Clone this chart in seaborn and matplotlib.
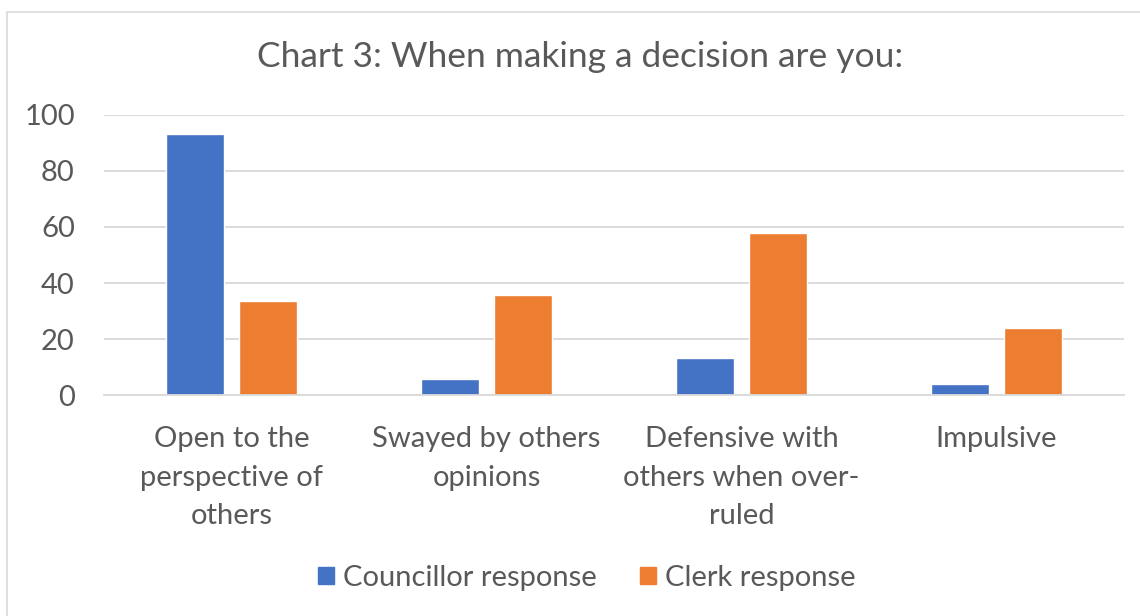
import matplotlib
matplotlib.use("Agg")
import matplotlib.pyplot as plt
import matplotlib.patches as mpatches
import pandas as pd
import seaborn as sns

# Survey responses (%)
categories = [
    "Open to the\nperspective of\nothers",
    "Swayed by others\nopinions",
    "Defensive with\nothers when over-\nruled",
    "Impulsive",
]
councillor = [93.0, 5.7, 13.4, 4.2]
clerk = [33.5, 35.7, 57.9, 24.0]
series_names = ["Councillor response", "Clerk response"]
y_ticks = [0, 20, 40, 60, 80, 100]

colors = ["#4472C4", "#ED7D31"]
text_color = "#595959"
grid_color = "#D9D9D9"

sns.set_theme(style="white")
plt.rcParams["font.family"] = ["Lato", "DejaVu Sans"]

df = pd.DataFrame({
    "category": categories * 2,
    "value": councillor + clerk,
    "series": [series_names[0]] * 4 + [series_names[1]] * 4,
})

W, H = 1140, 616
fig = plt.figure(figsize=(W / 100, H / 100), dpi=100)
ax = fig.add_axes([104 / W, 1 - 395.3 / H, (1124 - 104) / W, (395.3 - 114.7) / H])

sns.barplot(
    data=df, x="category", y="value", hue="series",
    palette=colors, width=0.57, gap=0.21, ax=ax,
    saturation=1, legend=False, errorbar=None,
)

ax.set_ylim(0, 100)
ax.set_yticks(y_ticks)
ax.set_xlabel("")
ax.set_ylabel("")
ax.yaxis.grid(True, color=grid_color, linewidth=1.3)
ax.set_axisbelow(True)
for s in ["top", "right", "left"]:
    ax.spines[s].set_visible(False)
ax.spines["bottom"].set_color(grid_color)
ax.spines["bottom"].set_linewidth(1.3)
ax.tick_params(axis="both", length=0, labelsize=21, colors=text_color)
ax.tick_params(axis="y", pad=21)
ax.tick_params(axis="x", pad=22)
for lbl in ax.get_xticklabels():
    lbl.set_linespacing(1.61)

fig.text(580 / W, 1 - 57 / H, "Chart 3: When making a decision are you:",
         ha="center", va="center", fontsize=25.5, color=text_color)

handles = [mpatches.Patch(color=c, label=n) for c, n in zip(colors, series_names)]
fig.legend(handles=handles, loc="center", bbox_to_anchor=(587 / W, 1 - 578 / H),
           ncol=2, frameon=False, fontsize=21, labelcolor=text_color,
           handlelength=0.55, handleheight=0.55, handletextpad=0.3,
           columnspacing=1.5)

# Chart frame
fig.add_artist(mpatches.Rectangle((7 / W, -0.1), 1.2, 1 - 12 / H + 0.1,
                                  transform=fig.transFigure, fill=False,
                                  edgecolor=grid_color, linewidth=1.2))

fig.savefig("out.png", dpi=100, facecolor="white")
